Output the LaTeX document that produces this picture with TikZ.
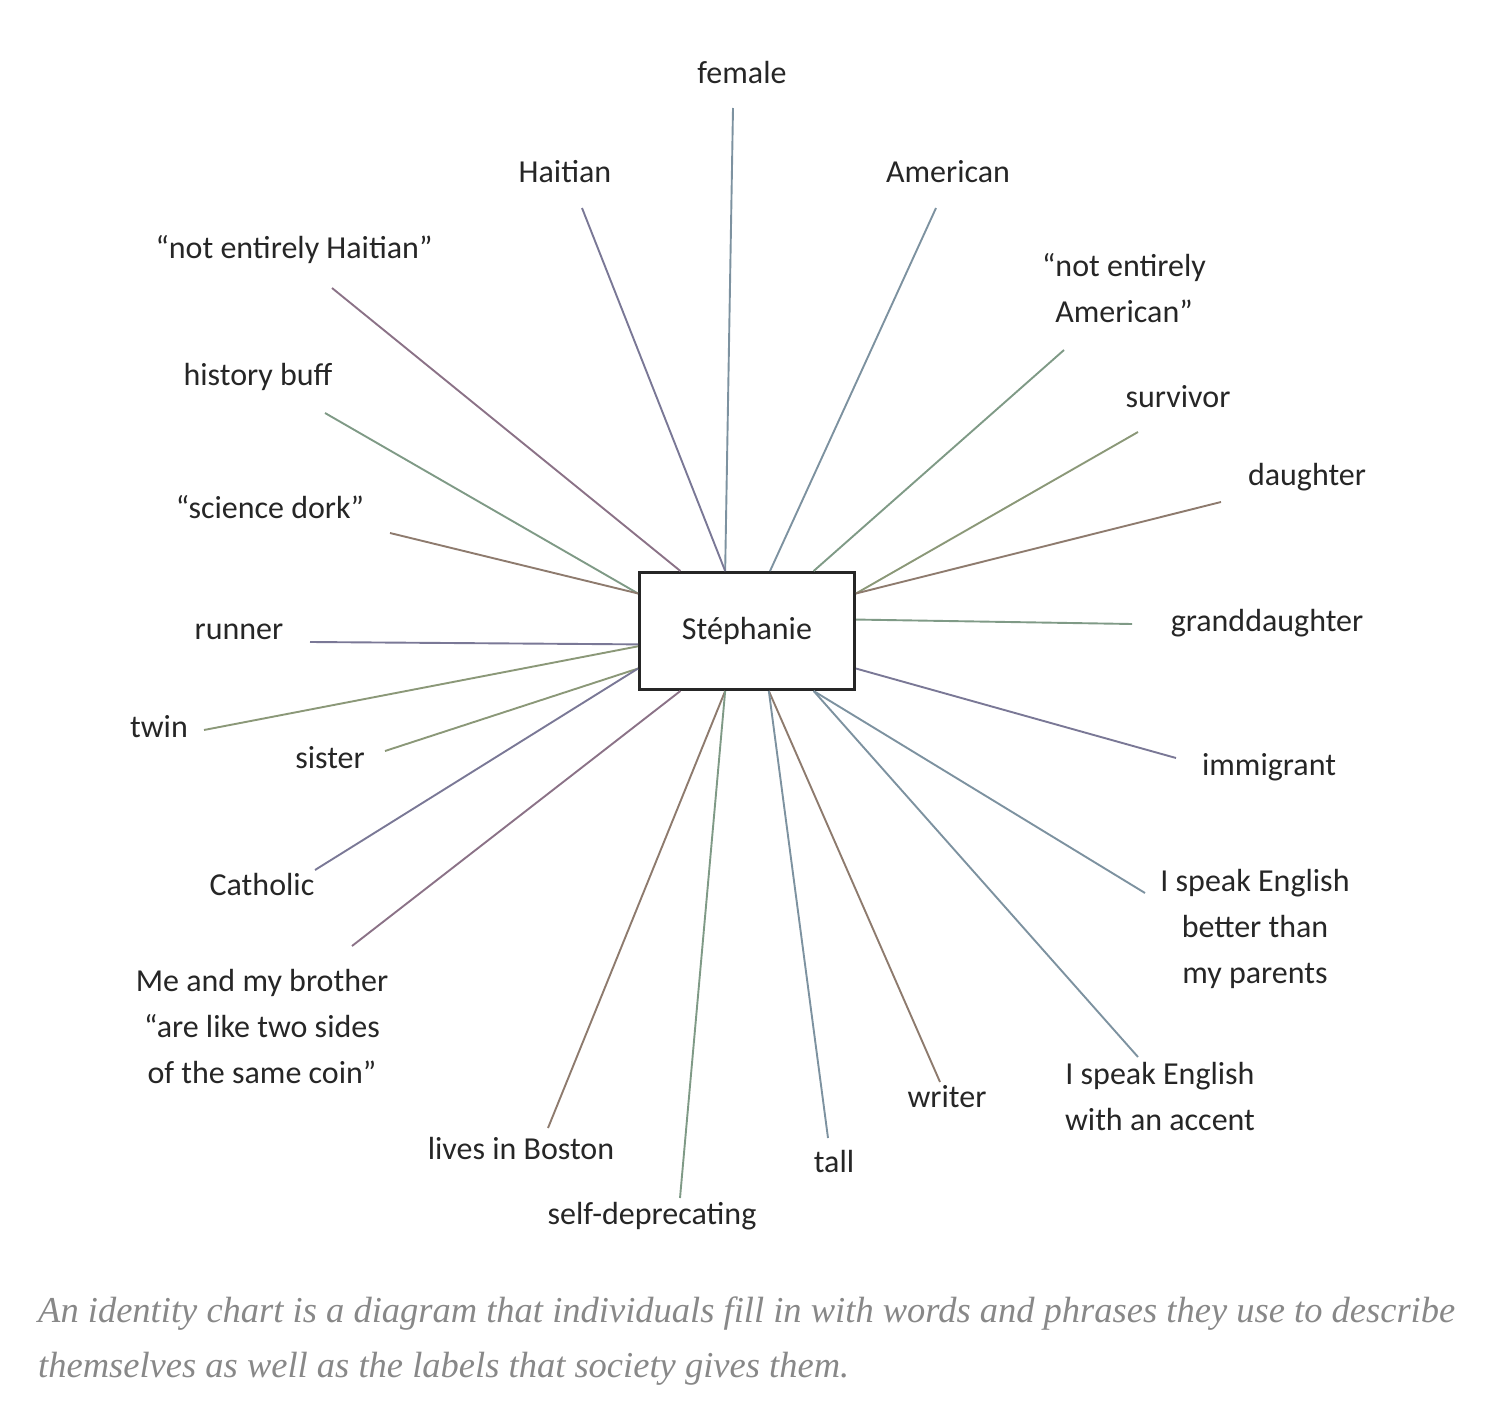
\documentclass[tikz,border=0pt]{standalone}
\usepackage{fontspec}
\setmainfont{Carlito}
\newfontfamily\captionfont{Liberation Serif}
\usepackage{xcolor}
\definecolor{capgray}{HTML}{888888}
\definecolor{sgreen}{HTML}{7F9A86}
\definecolor{spurple}{HTML}{7A7896}
\definecolor{smauve}{HTML}{8B7287}
\definecolor{sbrown}{HTML}{8E7B6E}
\definecolor{sblue}{HTML}{7D92A0}
\definecolor{solive}{HTML}{8B9878}

\begin{document}
\begin{tikzpicture}[
  x=1pt, y=-1pt,
  centre/.style={
    rectangle, draw=black!85, line width=3pt, fill=white,
    minimum width=215pt, minimum height=117pt,
    font=\fontsize{32}{40}\selectfont, text=black!85
  },
  word/.style={font=\fontsize{32}{46}\selectfont, align=center,
    inner sep=0pt, text=black!85},
  spoke/.style={draw=#1, line width=1.9pt},
  caption/.style={font=\captionfont\itshape\fontsize{36.5}{55}\selectfont,
    text=capgray, align=left, inner sep=0pt},
]
\useasboundingbox (0,0) rectangle (1504,1412);

% Centre
\node[centre] (st) at (747,631) {Stéphanie};

% Top
\node[word] (female) at (742,73) {female};
\node[word] (haitian) at (565,172) {Haitian};
\node[word] (american) at (948,172) {American};
\node[word] (nhaitian) at (294,250) {“not entirely Haitian”};
\node[word] (namerican) at (1124,288) {“not entirely\\American”};
\coordinate (e-female) at (733,108);
\coordinate (e-haitian) at (582,208);
\coordinate (e-american) at (936,208);
\coordinate (e-nhaitian) at (332,288);
\coordinate (e-namerican) at (1064,350);
\draw[spoke=sblue] (st.110) -- (e-female);
\draw[spoke=spurple] (st.110) -- (e-haitian);
\draw[spoke=sblue] (st.69) -- (e-american);
\draw[spoke=smauve] (st.138) -- (e-nhaitian);
\draw[spoke=sgreen] (st.42) -- (e-namerican);

% Left
\node[word] (history) at (258,377) {history buff};
\node[word] (science) at (270,507) {“science dork”};
\node[word] (runner) at (239,632) {runner};
\node[word] (twin) at (159,727) {twin};
\node[word] (sister) at (330,758) {sister};
\node[word] (catholic) at (262,885) {Catholic};
\node[word] (brother) at (262,1026)
  {Me and my brother\\“are like two sides\\of the same coin”};
\coordinate (e-history) at (325,413);
\coordinate (e-science) at (390,533);
\coordinate (e-runner) at (310,642);
\coordinate (e-twin) at (204,730);
\coordinate (e-sister) at (385,751);
\coordinate (e-catholic) at (315,870);
\coordinate (e-brother) at (352,946);
\draw[spoke=sgreen] (st.161) -- (e-history);
\draw[spoke=sbrown] (st.161) -- (e-science);
\draw[spoke=spurple] (st.187) -- (e-runner);
\draw[spoke=solive] (st.188) -- (e-twin);
\draw[spoke=solive] (st.199) -- (e-sister);
\draw[spoke=spurple] (st.199) -- (e-catholic);
\draw[spoke=smauve] (st.222) -- (e-brother);

% Right
\node[word] (survivor) at (1178,397) {survivor};
\node[word] (daughter) at (1307,477) {daughter};
\node[word] (grand) at (1267,623) {granddaughter};
\node[word] (immigrant) at (1269,767) {immigrant};
\node[word] (better) at (1255,929)
  {I speak English\\better than\\my parents};
\node[word] (accent) at (1160,1096) {I speak English\\with an accent};
\coordinate (e-survivor) at (1138,432);
\coordinate (e-daughter) at (1221,502);
\coordinate (e-grand) at (1132,624);
\coordinate (e-immigrant) at (1176,758);
\coordinate (e-better) at (1145,893);
\coordinate (e-accent) at (1138,1057);
\draw[spoke=solive] (st.19) -- (e-survivor);
\draw[spoke=sbrown] (st.19) -- (e-daughter);
\draw[spoke=sgreen] (st.6) -- (e-grand);
\draw[spoke=spurple] (st.341) -- (e-immigrant);
\draw[spoke=sblue] (st.318) -- (e-better);
\draw[spoke=sblue] (st.318) -- (e-accent);

% Bottom
\node[word] (writer) at (947,1097) {writer};
\node[word] (tall) at (834,1161) {tall};
\node[word] (boston) at (521,1148) {lives in Boston};
\node[word] (selfdep) at (652,1216) {self-deprecating};
\coordinate (e-writer) at (940,1082);
\coordinate (e-tall) at (828,1138);
\coordinate (e-boston) at (548,1128);
\coordinate (e-selfdep) at (680,1198);
\draw[spoke=sbrown] (st.290) -- (e-writer);
\draw[spoke=sblue] (st.290) -- (e-tall);
\draw[spoke=sbrown] (st.250) -- (e-boston);
\draw[spoke=sgreen] (st.250) -- (e-selfdep);

% Caption
\node[caption, anchor=north west] (cap) at (38,1297)
  {An identity chart is a diagram that individuals fill in with words and phrases they use to describe\\
   themselves as well as the labels that society gives them.};

\end{tikzpicture}
\end{document}
